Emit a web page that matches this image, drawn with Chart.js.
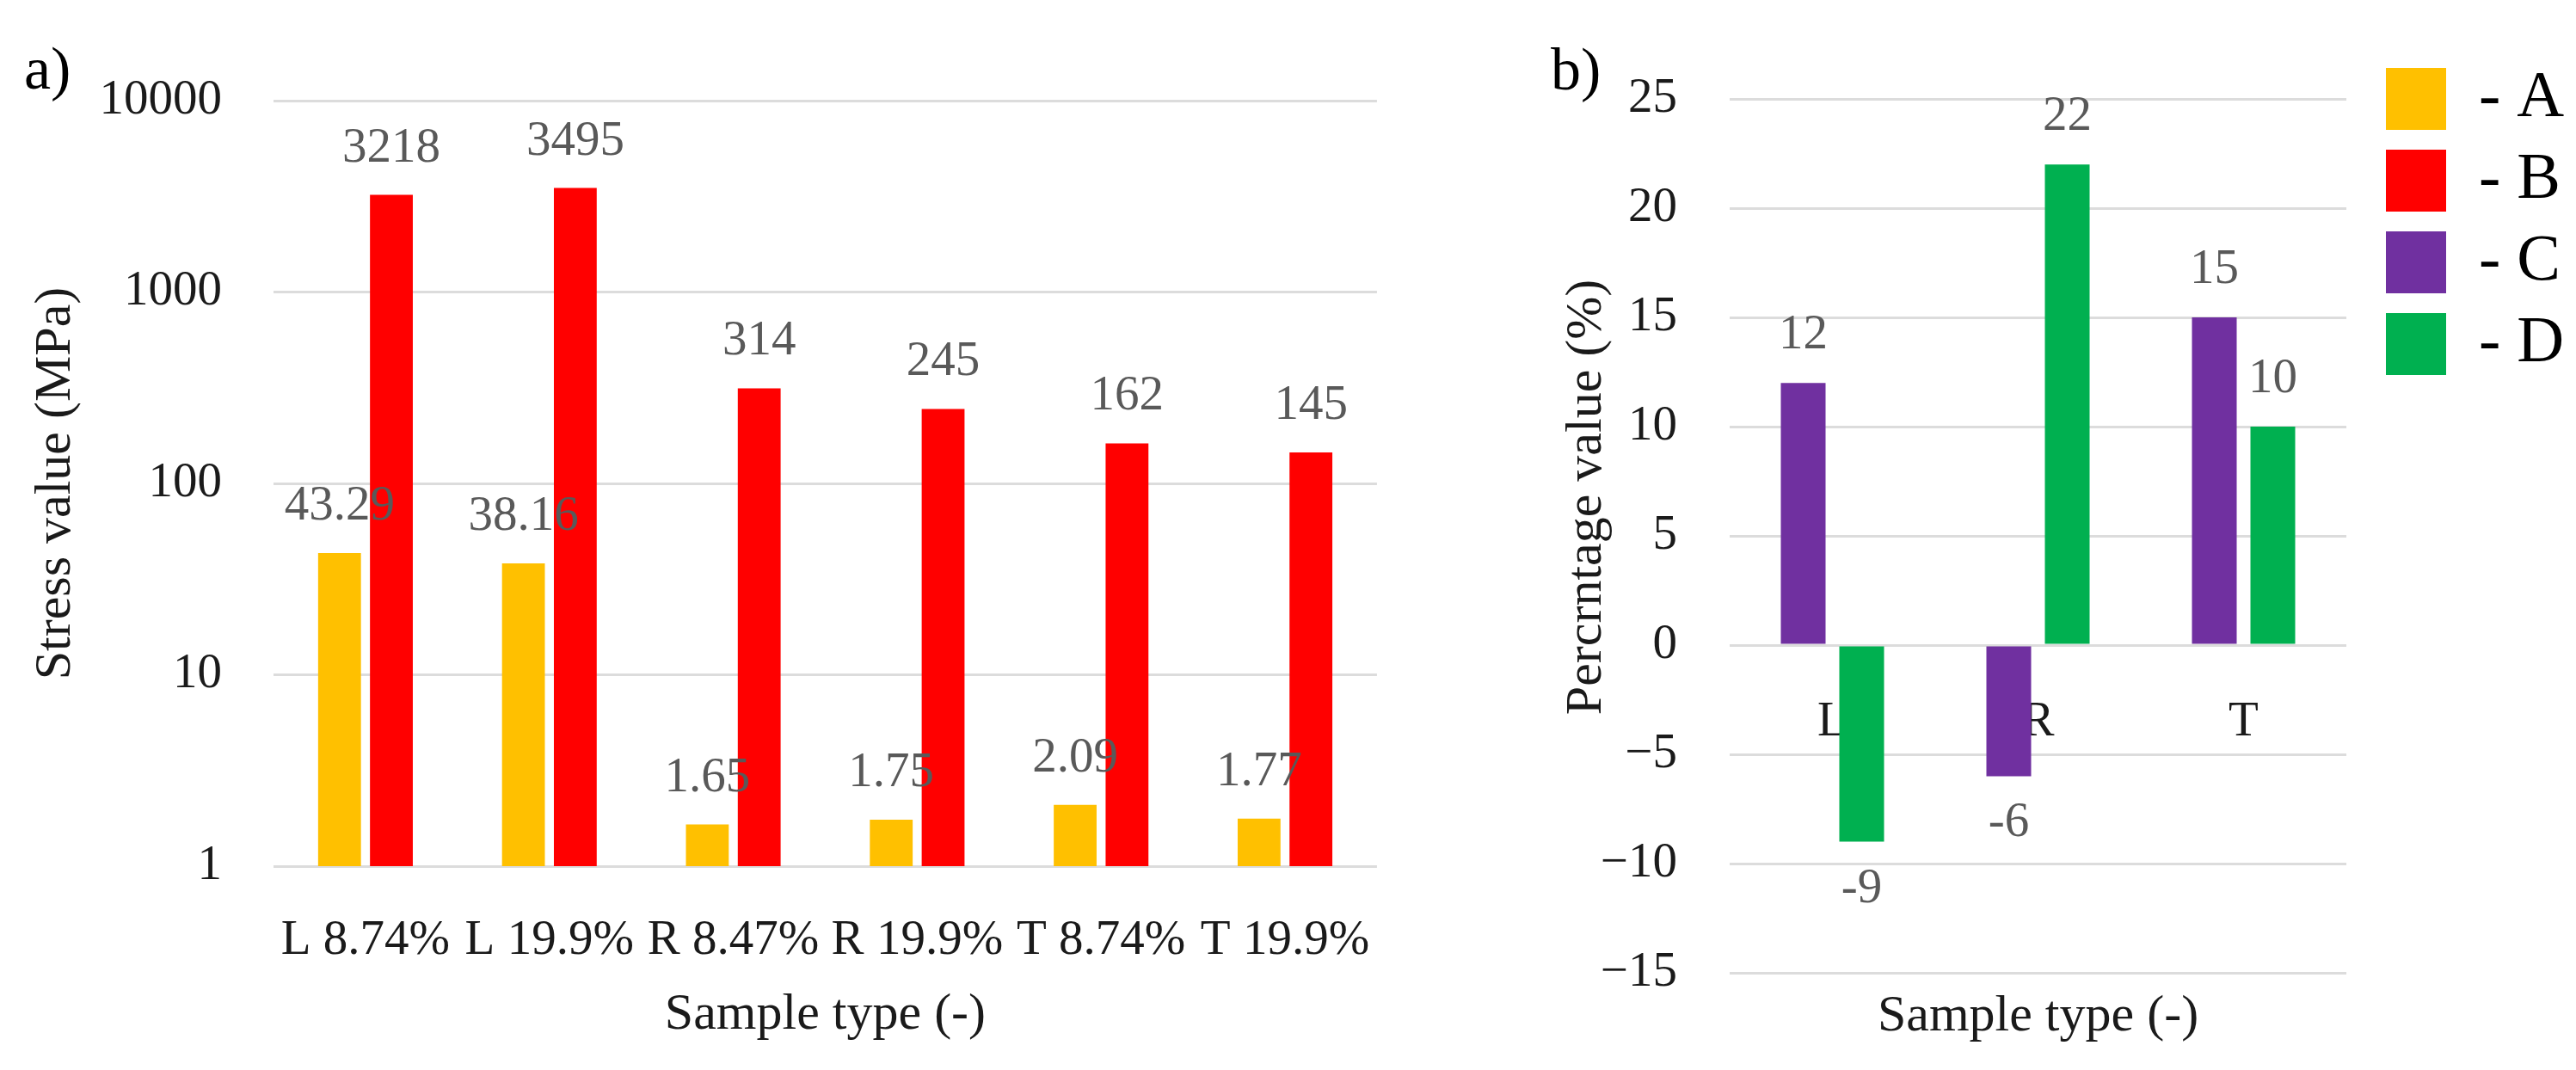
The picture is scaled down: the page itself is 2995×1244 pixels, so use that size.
<!DOCTYPE html>
<html><head><meta charset="utf-8">
<script src="https://cdn.jsdelivr.net/npm/chart.js@4.4.0/dist/chart.umd.min.js"></script>
<style>
html,body{margin:0;padding:0;background:#fff;width:2995px;height:1244px;overflow:hidden;}
#wrap{position:relative;width:2995px;height:1244px;}
.box{position:absolute;}
.panel{position:absolute;font-family:'Liberation Serif';font-size:70px;color:#000;line-height:1;}
</style></head><body>
<div id="wrap">
<div class="panel" style="left:28px;top:45px">a)</div>
<div class="panel" style="left:1803px;top:46px">b)</div>
<div class="box" style="left:0;top:0;width:1640px;height:1244px"><canvas id="chartA"></canvas></div>
<div class="box" style="left:1760px;top:0;width:990px;height:1244px"><canvas id="chartB"></canvas></div>
<div class="box" style="left:2755px;top:58px;width:240px;height:1000px"><canvas id="chartC"></canvas></div>
</div>
<script>
// ---- data ----
const sampleTypes = ['L 8.74%', 'L 19.9%', 'R 8.47%', 'R 19.9%', 'T 8.74%', 'T 19.9%'];
const seriesA = [43.29, 38.16, 1.65, 1.75, 2.09, 1.77];
const seriesB = [3218, 3495, 314, 245, 162, 145];
const stressTicks = [1, 10, 100, 1000, 10000];
const directions = ['L', 'R', 'T'];
const seriesC = [12, -6, 15];
const seriesD = [-9, 22, 10];
const pctMin = -15, pctMax = 25, pctStep = 5;
const legendNames = ['A', 'B', 'C', 'D'];

// ---- styles ----
const colors = { A: '#FFC000', B: '#FF0000', C: '#7030A0', D: '#00B050' };
Chart.defaults.font.family = "'Liberation Serif'";
const txt = '#1a1a1a';
const gridColor = '#dcdcdc';

const valueLabels = {
  id: 'valueLabels',
  afterDatasetsDraw(chart, args, opts) {
    const ctx = chart.ctx;
    ctx.save();
    ctx.font = opts.size + "px 'Liberation Serif'";
    ctx.fillStyle = opts.color;
    ctx.textAlign = 'center';
    ctx.textBaseline = 'middle';
    chart.data.datasets.forEach((ds, di) => {
      const meta = chart.getDatasetMeta(di);
      meta.data.forEach((bar, i) => {
        const v = ds.data[i];
        const y = v >= 0 ? bar.y - opts.offset : bar.y + opts.offset;
        ctx.fillText(String(v), bar.x, y);
      });
    });
    ctx.restore();
  }
};

new Chart(document.getElementById('chartA'), {
  type: 'bar',
  data: {
    labels: sampleTypes,
    datasets: [
      { label: 'A', data: seriesA, backgroundColor: colors.A },
      { label: 'B', data: seriesB, backgroundColor: colors.B }
    ]
  },
  options: {
    responsive: true, maintainAspectRatio: false, animation: false, devicePixelRatio: 1,
    layout: { padding: { top: 117, right: 34, bottom: 0, left: 0 } },
    datasets: { bar: { categoryPercentage: 0.564, barPercentage: 0.826 } },
    plugins: {
      legend: { display: false }, tooltip: { enabled: false },
      valueLabels: { size: 57, color: '#595959', offset: 54 }
    },
    scales: {
      x: {
        grid: { display: false }, border: { display: false },
        ticks: { font: { size: 57 }, color: txt, padding: 45, maxRotation: 0, autoSkip: false },
        title: { display: true, text: 'Sample type (-)', font: { size: 60 }, color: txt, padding: { top: 0, bottom: 28 } },
        afterFit(s) { s.height = 237; }
      },
      y: {
        type: 'logarithmic', min: 1, max: 10000,
        grid: { color: gridColor, lineWidth: 3, drawTicks: false }, border: { display: false },
        afterBuildTicks(s) { s.ticks = stressTicks.map(v => ({ value: v })); },
        ticks: { font: { size: 57 }, color: txt, padding: 60, callback: v => String(v) },
        title: { display: true, text: 'Stress value (MPa)', font: { size: 60 }, color: txt, padding: { top: 29, bottom: 0 } },
        afterFit(s) { s.width = 318; }
      }
    }
  },
  plugins: [valueLabels]
});

new Chart(document.getElementById('chartB'), {
  type: 'bar',
  data: {
    labels: directions,
    datasets: [
      { label: 'C', data: seriesC, backgroundColor: colors.C },
      { label: 'D', data: seriesD, backgroundColor: colors.D }
    ]
  },
  options: {
    responsive: true, maintainAspectRatio: false, animation: false, devicePixelRatio: 1,
    layout: { padding: { top: 115, right: 22, bottom: 0, left: 0 } },
    datasets: { bar: { categoryPercentage: 0.569, barPercentage: 0.765 } },
    plugins: {
      legend: { display: false }, tooltip: { enabled: false },
      valueLabels: { size: 57, color: '#595959', offset: 55 }
    },
    scales: {
      x: {
        position: { y: 0 },
        grid: { display: false }, border: { display: false },
        ticks: { font: { size: 57 }, color: txt, padding: 48, maxRotation: 0 }
      },
      x2: {
        type: 'category', labels: directions, position: 'bottom',
        grid: { display: false }, border: { display: false },
        ticks: { display: false },
        title: { display: true, text: 'Sample type (-)', font: { size: 60 }, color: txt, padding: { top: 0, bottom: 26 } },
        afterFit(s) { s.height = 113; }
      },
      y: {
        min: pctMin, max: pctMax,
        grid: { color: gridColor, lineWidth: 3, drawTicks: false }, border: { display: false },
        ticks: { stepSize: pctStep, font: { size: 57 }, color: txt, padding: 61,
          callback: v => v < 0 ? '\u2212' + Math.abs(v) : String(v) },
        title: { display: true, text: '      Percrntage value (%)', font: { size: 60 }, color: txt, padding: { top: 49, bottom: 0 } },
        afterFit(s) { s.width = 251; }
      }
    }
  },
  plugins: [valueLabels]
});

new Chart(document.getElementById('chartC'), {
  type: 'bar',
  data: {
    labels: [],
    datasets: legendNames.map(n => ({ label: '- ' + n, data: [], backgroundColor: colors[n] }))
  },
  options: {
    responsive: true, maintainAspectRatio: false, animation: false, devicePixelRatio: 1,
    layout: { padding: 0 },
    plugins: {
      tooltip: { enabled: false },
      legend: {
        position: 'top', align: 'start', onClick: null,
        labels: { boxWidth: 70, boxHeight: 72, padding: 19, font: { size: 76 }, color: '#000' }
      }
    },
    scales: { x: { display: false }, y: { display: false } }
  }
});
</script>
</body></html>
